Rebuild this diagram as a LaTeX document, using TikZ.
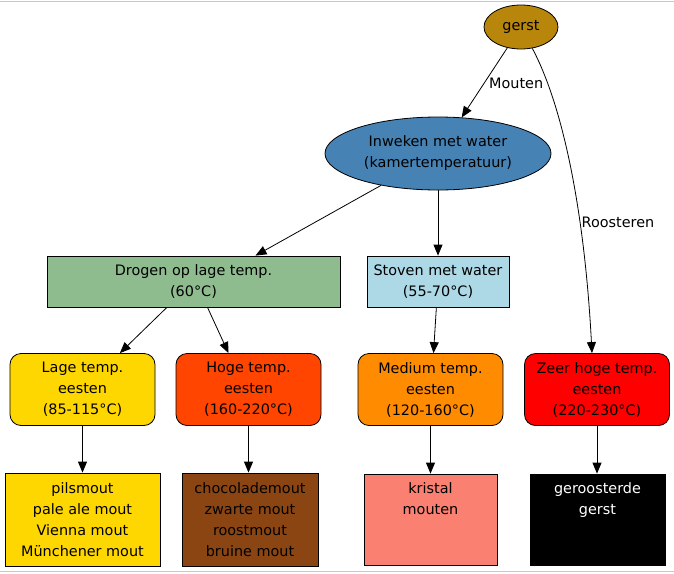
\documentclass[tikz,border=0pt]{standalone}
\usepackage{fontspec}
\setmainfont{DejaVu Sans}
\usetikzlibrary{arrows.meta,shapes.geometric}
\definecolor{cgerst}{HTML}{B8860B}
\definecolor{cinw}{HTML}{4682B4}
\definecolor{cdrog}{HTML}{8FBC8F}
\definecolor{cstov}{HTML}{ADD8E6}
\definecolor{cgold}{HTML}{FFD700}
\definecolor{choge}{HTML}{FF4500}
\definecolor{cmed}{HTML}{FF8C00}
\definecolor{czeer}{HTML}{FF0000}
\definecolor{cchoc}{HTML}{8B4513}
\definecolor{ckris}{HTML}{FA8072}
\definecolor{cframe}{HTML}{C8C8C8}
\begin{document}
\begin{tikzpicture}[x=1pt,y=-1pt,
  base/.style={draw=black, line width=0.8pt, font=\fontsize{14.4}{21}\selectfont, align=center, inner sep=0pt},
  ell/.style={base, ellipse},
  box/.style={base, rectangle},
  rbox/.style={base, rectangle, rounded corners=11pt, minimum width=145pt, minimum height=72pt},
  arr/.style={-{Triangle[length=11pt,width=9pt]}, line width=0.8pt},
  lbl/.style={font=\fontsize{14.4}{17}\selectfont, inner sep=0pt}
]
\useasboundingbox (0,0) rectangle (674,573);
\draw[cframe, line width=1pt] (0,1) -- (674,1);
\draw[cframe, line width=1pt] (0,571.5) -- (674,571.5);

\node[ell, fill=cgerst, minimum width=74pt, minimum height=44pt] (gerst) at (521,27) {gerst};
\node[ell, fill=cinw, minimum width=226pt, minimum height=73pt] (inw) at (438,153.5) {Inweken met water\\(kamertemperatuur)};
\node[box, fill=cdrog, minimum width=293pt, minimum height=51pt] (drog) at (193.5,281.5) {Drogen op lage temp.\\(60°C)};
\node[box, fill=cstov, minimum width=142pt, minimum height=51pt] (stov) at (438,281.5) {Stoven met water\\(55-70°C)};

\node[rbox, fill=cgold] (lage) at (82.5,389.5) {Lage temp.\\eesten\\(85-115°C)};
\node[rbox, fill=choge] (hoge) at (248.5,389.5) {Hoge temp.\\eesten\\(160-220°C)};
\node[rbox, fill=cmed] (med) at (430.5,389.5) {Medium temp.\\eesten\\(120-160°C)};
\node[rbox, fill=czeer] (zeer) at (597,389.5) {Zeer hoge temp.\\eesten\\(220-230°C)};

\node[box, fill=cgold, minimum width=155pt, minimum height=93pt] (pils) at (82.5,519.5) {pilsmout\\pale ale mout\\Vienna mout\\Münchener mout};
\node[box, fill=cchoc, minimum width=136pt, minimum height=93pt] (choc) at (250,519.5) {chocolademout\\zwarte mout\\roostmout\\bruine mout};
\node[box, fill=ckris, minimum width=133pt, minimum height=91pt] (kris) at (430.5,519.5) {kristal\\mouten\\~\\~};
\node[box, fill=black, text=white, minimum width=135pt, minimum height=91pt] (gero) at (597.5,519.5) {geroosterde\\gerst\\~\\~};

\draw[arr] (gerst) -- (inw);
\node[lbl, anchor=west] (lmout) at (489,83) {Mouten};
\draw[arr] (gerst) .. controls (565,110) and (585,220) .. ([xshift=-5pt]zeer.north);
\node[lbl] (lroost) at (618,222) {Roosteren};
\draw[arr] (inw) -- ([xshift=62pt]drog.north);
\draw[arr] (inw) -- (stov);
\draw[arr] (drog) -- (lage);
\draw[arr] ([xshift=14pt]drog.south) -- ([xshift=-20pt]hoge.north);
\draw[arr] (stov) -- ([xshift=3pt]med.north);
\draw[arr] (lage) -- (pils);
\draw[arr] (hoge) -- (choc.north -| hoge.south);
\draw[arr] (med) -- (kris);
\draw[arr] (zeer) -- (gero.north -| zeer.south);
\end{tikzpicture}
\end{document}
